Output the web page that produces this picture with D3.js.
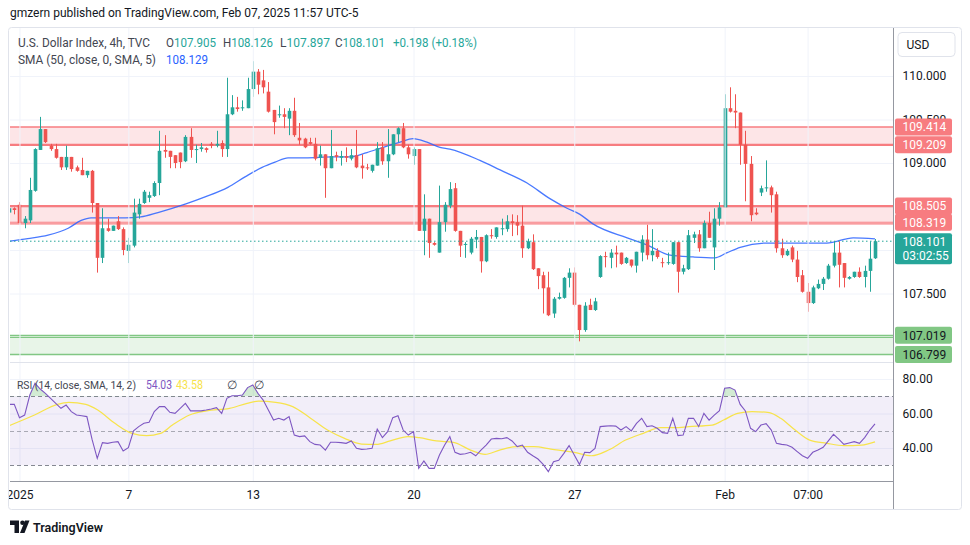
<!DOCTYPE html>
<html><head><meta charset="utf-8">
<script src="https://cdn.jsdelivr.net/npm/d3@7"></script>
<style>
html,body{margin:0;padding:0;background:#fff;}
svg{display:block;font-family:Roboto,"Noto Sans",sans-serif;}
</style></head><body>
<svg id="c" width="970" height="545"></svg>
<script>
// ---------------- DATA ----------------
const opens=[108.43,108.48,108.52,108.31,108.34,108.68,109.15,109.39,109.20,109.16,
109.07,108.95,109.07,108.95,108.92,108.86,108.91,108.54,107.91,108.25,
108.22,108.33,108.24,107.99,108.05,108.41,108.54,108.60,108.62,108.77,
109.15,109.14,109.09,109.12,109.02,109.30,109.15,109.16,109.17,109.22,
109.20,109.23,109.16,109.56,109.64,109.63,109.63,109.85,110.05,109.95,
109.82,109.61,109.55,109.56,109.51,109.60,109.29,109.28,109.24,109.22,
109.06,109.10,108.94,109.09,109.06,109.08,109.05,109.09,108.97,108.95,
108.91,108.97,109.18,109.02,109.10,109.33,109.40,109.18,109.08,109.16,
108.22,108.36,108.08,107.97,108.32,108.51,108.71,108.22,108.06,107.97,
108.12,108.15,107.87,108.17,108.15,108.24,108.24,108.33,108.32,108.28,
108.02,108.09,107.79,107.71,107.57,107.27,107.44,107.45,107.68,107.74,
107.37,107.08,107.37,107.31,107.69,107.93,107.91,107.97,107.97,107.85,
107.89,107.82,107.97,108.12,107.94,107.99,107.86,107.85,107.84,108.09,
107.75,107.78,108.14,108.18,108.02,108.31,108.03,108.36,108.49,109.63,
109.60,109.58,109.21,108.99,108.43,108.66,108.71,108.72,108.64,108.02,
107.94,108.03,107.89,107.71,107.52,107.39,107.56,107.61,107.67,107.82,
107.97,107.85,107.67,107.69,107.75,107.69,107.76,107.905];
const highs=[108.49,108.49,108.55,108.39,108.83,109.17,109.53,109.39,109.22,109.22,
109.07,109.20,109.07,108.97,109.06,108.91,108.92,108.54,108.48,108.36,
108.28,108.39,108.26,108.14,108.59,108.59,108.69,108.67,108.79,109.37,
109.32,109.14,109.09,109.12,109.32,109.40,109.21,109.23,109.18,109.24,
109.37,109.26,109.98,109.78,109.76,109.72,109.98,110.17,110.08,110.07,
109.93,109.61,109.66,109.63,109.63,109.75,109.46,109.29,109.29,109.29,
109.20,109.10,109.38,109.13,109.14,109.18,109.16,109.38,109.10,108.99,
108.98,109.24,109.24,109.39,109.33,109.41,109.46,109.21,109.18,109.16,
108.64,108.36,108.09,108.74,108.55,108.78,108.77,108.22,108.09,108.15,
108.23,108.15,108.18,108.24,108.26,108.36,108.40,108.41,108.40,108.51,
108.13,108.18,107.79,107.75,107.75,107.46,107.51,107.69,107.79,107.80,
107.37,107.40,107.44,107.45,107.94,107.98,108.01,108.05,107.97,107.92,
107.89,107.98,108.17,108.29,108.24,108.02,107.91,107.97,108.09,108.09,
107.83,108.23,108.21,108.23,108.34,108.44,108.48,108.55,109.79,109.87,
109.79,109.58,109.37,109.08,108.48,108.74,109.03,108.74,108.67,108.13,
108.01,108.05,107.99,107.77,107.62,107.59,107.66,107.69,107.84,108.10,
108.10,107.85,107.70,107.75,107.80,107.82,108.10,108.126];
const lows=[108.40,108.41,108.31,108.25,108.31,108.67,109.15,109.23,109.14,109.05,
108.92,108.92,108.90,108.90,108.86,108.83,108.43,107.74,107.85,108.21,
108.22,108.23,107.94,107.85,108.03,108.36,108.53,108.55,108.61,108.63,
109.06,108.94,108.94,108.94,109.01,109.06,109.00,109.13,109.12,109.17,
109.18,109.07,109.07,109.55,109.59,109.60,109.63,109.76,109.79,109.80,
109.58,109.33,109.52,109.40,109.32,109.30,109.21,109.17,109.21,109.03,
108.97,108.60,108.94,109.02,108.97,109.01,109.03,108.94,108.82,108.92,
108.89,108.97,108.98,108.83,109.09,109.24,109.17,109.05,108.98,108.22,
107.94,107.91,108.05,107.97,108.21,108.48,108.21,107.92,107.91,107.95,
108.02,107.74,107.86,108.13,108.13,108.17,108.21,108.16,108.17,107.91,
108.01,107.77,107.55,107.27,107.24,107.22,107.43,107.44,107.57,107.35,
106.95,107.06,107.31,107.30,107.68,107.80,107.79,107.80,107.83,107.84,
107.80,107.74,107.87,107.89,107.87,107.90,107.80,107.83,107.83,107.51,
107.72,107.77,108.08,107.98,108.02,108.14,107.77,108.28,108.49,109.58,
109.40,108.98,108.56,108.33,108.40,108.62,108.67,108.43,107.97,107.91,
107.93,107.86,107.63,107.51,107.29,107.38,107.55,107.54,107.66,107.80,
107.57,107.57,107.66,107.68,107.68,107.57,107.52,107.897];
const closes=[108.48,108.46,108.31,108.36,108.69,109.16,109.39,109.24,109.16,109.06,
108.95,109.07,108.93,108.91,108.86,108.91,108.54,107.91,108.25,108.22,
108.28,108.24,108.00,108.06,108.43,108.53,108.67,108.63,108.77,109.14,
109.13,109.07,109.00,109.01,109.30,109.15,109.16,109.18,109.15,109.20,
109.22,109.16,109.56,109.64,109.62,109.64,109.85,110.05,109.90,109.87,
109.59,109.47,109.56,109.53,109.60,109.32,109.26,109.18,109.22,109.05,
109.10,108.94,109.08,109.07,109.08,109.06,109.09,108.95,108.94,108.94,
108.98,109.17,109.02,109.10,109.33,109.40,109.18,109.10,109.16,108.22,
108.36,108.08,108.06,108.32,108.52,108.70,108.22,108.05,108.07,108.13,
108.15,107.87,108.17,108.16,108.26,108.25,108.33,108.31,108.28,108.02,
108.10,107.78,107.70,107.56,107.25,107.44,107.46,107.68,107.74,107.37,
107.08,107.36,107.31,107.41,107.93,107.92,107.97,107.95,107.84,107.91,
107.82,107.98,108.12,107.94,107.99,107.92,107.85,107.86,108.09,107.75,
107.79,108.17,108.18,108.02,108.31,108.14,108.36,108.49,109.63,109.59,
109.58,109.21,108.99,108.40,108.41,108.71,108.72,108.63,108.02,107.94,
107.99,107.89,107.69,107.52,107.39,107.57,107.61,107.67,107.82,107.97,
107.83,107.68,107.69,107.75,107.69,107.76,107.90,108.101];

// SMA(50): bar position -> value
const smaIdx=[0,3.6,7.5,11.4,13.9,15.8,19.1,22.4,25.4,28.7,34.1,37.8,42.2,45.5,48.8,51.3,53.8,57.1,62.5,65.7,69,72.1,75.4,77.9,80.6,83.1,85,90.8,94.7,99.9,104.3,107.6,110.1,112.6,119.2,123,127.5,131.9,136.1,138.5,141,146.2,151.2,157.7,162.8,167];
const smaVal=[108.10,108.13,108.17,108.25,108.34,108.37,108.37,108.37,108.38,108.43,108.53,108.61,108.72,108.84,108.95,109.01,109.06,109.06,109.07,109.07,109.12,109.18,109.24,109.28,109.24,109.18,109.16,109.03,108.92,108.77,108.59,108.48,108.41,108.30,108.14,108.06,107.94,107.92,107.91,107.97,108.03,108.08,108.08,108.08,108.14,108.129];

const rsi=[65.3,65.3,57.6,59.1,70.7,77.5,74.2,71.7,68.8,65.9,
63,64.9,61.1,59.1,58.7,58.2,45,34,43.1,42.7,
43.3,43.7,38.3,40.2,49.9,52.4,54.3,54.9,61.1,64,
64,60.7,60.1,63,65.9,61.5,61.5,61.5,62,62.6,
63.4,60.1,68.8,70.3,70.3,70.7,75,76.5,71.7,67.8,
62,56.2,57.2,56.2,58.2,47.5,46.6,47,43.7,42.1,
41.7,38.8,43.3,43.3,43.1,42.7,44.1,39.8,39.2,39.4,
39.8,51,46,49.5,57.6,58.7,50.4,47.5,49.5,28.2,
32.5,28.2,28.2,35.9,41.7,46.6,37.5,36.3,36.7,37.5,
35.5,38.8,41.7,45.2,45.6,45.4,46,44.1,40.8,41.7,
37.5,35.5,33.6,30.5,26.3,32.1,32.9,36.9,41.4,35.9,
30.5,37.5,37.3,39.8,52.4,52.7,52.9,52.7,50.4,52.4,
49.9,54.3,57.2,52.4,52.9,51.4,48.9,48.5,57.2,47.2,
47.5,57.2,57.2,52.4,60.1,56.2,59.1,61.6,74.6,75,
73.6,65.3,61.5,51.4,49.5,53.3,54.1,50.4,42.7,42.1,
41.7,40.4,37.9,35.5,34,37.5,38.8,40.4,44.1,47.9,
45.2,42.1,42.9,43.7,42.7,46,50.4,54.03];
const rsiMaIdx=[0,4.9,9.3,11.5,14.8,17.1,20.4,23.7,26.5,29.2,31.5,34.8,38.1,42.5,45.9,48.1,51.4,54.7,58,61.4,64.7,68,70.8,73.5,76.9,79.1,82.4,85.7,89,91.8,94.6,97.9,101.2,104.5,109,112.3,115.6,118.9,122.3,125.6,128.4,131.1,135.6,137.8,140.5,143.3,146.6,148.8,151.6,154.4,157.7,161,164.4,167];
const rsiMaVal=[52.9,59.1,65.3,66.5,65.3,62,54.3,48.5,47.2,48.5,53.3,59.1,61.5,63,65.9,67.2,66.5,64,57.6,50.4,45.6,42.3,42.1,44.1,46.6,46,44.1,43.3,38.8,36.3,38.8,40.8,40.8,39.4,37.5,35.5,38.8,44.6,48.5,51.8,51.8,52.4,53.3,56.2,60.1,61.1,60.5,57.2,50.4,44.6,42.7,41.4,41.7,43.58];

const resistanceZones=[[109.414,109.209],[108.505,108.319]];
const extraRedLine=[108.30];
const supportZone=[107.019,106.799];
const extraGreenLine=[106.995];
const lastPrice=108.101;
const countdown="03:02:55";
const priceTicks=[107,107.5,108,108.5,109,109.5,110];
const priceLabelTicks=[107.5,109,109.5,110];
const rsiTicks=[40,60,80];
const rsiLevels=[30,50,70];
const timeTickIdx=[2,23,47,78,109,138,154];
const timeTickLabels=["2025","7","13","20","27","Feb","07:00"];

// ---------------- LAYOUT ----------------
const svg=d3.select("#c");
const L=10,R=893.5,mainT=28,mainB=362,rsiT=363,rsiB=481;
const UP="#26a69a",DN="#ef5350";
const x=d3.scaleLinear().domain([0,167]).range([9.1,875]);
const y=d3.scaleLinear().domain([107.5,110]).range([293.5,76]);
const yr=d3.scaleLinear().domain([40,80]).range([448,379]);
const defs=svg.append("defs");
defs.append("clipPath").attr("id","cm").append("rect").attr("x",L).attr("y",mainT).attr("width",R-L).attr("height",mainB-mainT);
defs.append("clipPath").attr("id","cr").append("rect").attr("x",L).attr("y",rsiT).attr("width",R-L).attr("height",rsiB-rsiT);
defs.append("clipPath").attr("id","cob").append("rect").attr("x",L).attr("y",rsiT).attr("width",R-L).attr("height",yr(70)-rsiT);
defs.append("clipPath").attr("id","ct").append("rect").attr("x",9).attr("y",482).attr("width",R-9).attr("height",26);

// frame
svg.append("rect").attr("x",8.5).attr("y",27.5).attr("width",953).attr("height",482).attr("fill","none").attr("stroke","#e0e3eb").attr("rx",3);

// grids
const gm=svg.append("g").attr("clip-path","url(#cm)");
const gridColor="#f0f3fa";
gm.append("g").attr("transform",`translate(${L},0)`).call(d3.axisLeft(y).tickValues(priceTicks).tickSize(-(R-L)).tickFormat(""))
 .call(g=>{g.select(".domain").remove();g.selectAll("line").attr("stroke",gridColor);});
svg.append("g").attr("transform",`translate(0,${mainT})`).call(d3.axisBottom(x).tickValues(timeTickIdx).tickSize(rsiB-mainT).tickFormat(""))
 .call(g=>{g.select(".domain").remove();g.selectAll("line").attr("stroke",gridColor);});
const grr=svg.append("g").attr("clip-path","url(#cr)");

// zones
resistanceZones.forEach(z=>{
  gm.append("rect").attr("x",L).attr("width",R-L).attr("y",y(z[0])).attr("height",y(z[1])-y(z[0])).attr("fill","rgba(242,54,69,0.13)");
  gm.append("line").attr("x1",L).attr("x2",R).attr("y1",y(z[0])).attr("y2",y(z[0])).attr("stroke","#f77c80").attr("stroke-width",z[0]>109?1.5:2.2);
  gm.append("line").attr("x1",L).attr("x2",R).attr("y1",y(z[1])).attr("y2",y(z[1])).attr("stroke","#f77c80").attr("stroke-width",z[0]>109?2.2:1.2);
});
extraRedLine.forEach(v=>gm.append("line").attr("x1",L).attr("x2",R).attr("y1",y(v)).attr("y2",y(v)).attr("stroke","#f77c80").attr("stroke-width",1.2));
gm.append("rect").attr("x",L).attr("width",R-L).attr("y",y(supportZone[0])).attr("height",y(supportZone[1])-y(supportZone[0])).attr("fill","rgba(76,175,80,0.13)");
[supportZone[0],extraGreenLine[0],supportZone[1]].forEach(v=>gm.append("line").attr("x1",L).attr("x2",R).attr("y1",y(v)).attr("y2",y(v)).attr("stroke","#81c784").attr("stroke-width",1.3));

// SMA line
gm.append("path").datum(smaIdx.map((d,i)=>[d,smaVal[i]]))
 .attr("d",d3.line().x(d=>x(d[0])).y(d=>y(d[1])).curve(d3.curveMonotoneX))
 .attr("fill","none").attr("stroke","#2962ff").attr("stroke-width",1.3).attr("stroke-opacity",0.85);

// candles
const idx=d3.range(closes.length);
const col=i=>closes[i]>=opens[i]?UP:DN;
gm.append("g").selectAll("line").data(idx).join("line")
 .attr("x1",i=>Math.round(x(i))+0.5).attr("x2",i=>Math.round(x(i))+0.5)
 .attr("y1",i=>y(highs[i])).attr("y2",i=>y(lows[i])).attr("stroke",col).attr("stroke-width",1);
gm.append("g").selectAll("rect").data(idx).join("rect")
 .attr("x",i=>Math.round(x(i))-1.3).attr("width",3.6)
 .attr("y",i=>y(Math.max(opens[i],closes[i])))
 .attr("height",i=>Math.max(1,Math.abs(y(opens[i])-y(closes[i]))))
 .attr("fill",col);

// last price dotted line
gm.append("line").attr("x1",L).attr("x2",R).attr("y1",y(lastPrice)).attr("y2",y(lastPrice))
 .attr("stroke",UP).attr("stroke-width",1).attr("stroke-dasharray","1.5,2.5");

// RSI pane
grr.append("g").attr("transform",`translate(${L},0)`).call(d3.axisLeft(yr).tickValues(rsiTicks).tickSize(-(R-L)).tickFormat(""))
 .call(g=>{g.select(".domain").remove();g.selectAll("line").attr("stroke",gridColor);});
grr.append("rect").attr("x",L).attr("width",R-L).attr("y",yr(70)).attr("height",yr(30)-yr(70)).attr("fill","rgba(126,87,194,0.1)");
rsiLevels.forEach(v=>grr.append("line").attr("x1",L).attr("x2",R).attr("y1",Math.round(yr(v))+0.5).attr("y2",Math.round(yr(v))+0.5)
 .attr("stroke","#787b86").attr("stroke-opacity",v===50?0.6:0.9).attr("stroke-dasharray","4,3"));
const rsiPts=idx.map(i=>[i,rsi[i]]);
grr.append("path").datum(rsiPts).attr("clip-path","url(#cob)")
 .attr("d",d3.area().x(d=>x(d[0])).y0(yr(70)).y1(d=>yr(d[1]))).attr("fill","rgba(76,175,80,0.25)");
grr.append("path").datum(rsiMaIdx.map((d,i)=>[d,rsiMaVal[i]]))
 .attr("d",d3.line().x(d=>x(d[0])).y(d=>yr(d[1])).curve(d3.curveMonotoneX))
 .attr("fill","none").attr("stroke","#f7e34b").attr("stroke-width",1.2);
grr.append("path").datum(rsiPts)
 .attr("d",d3.line().x(d=>x(d[0])).y(d=>yr(d[1])))
 .attr("fill","none").attr("stroke","#7e57c2").attr("stroke-width",1.1);

// separators
svg.append("line").attr("x1",L).attr("x2",R).attr("y1",362.5).attr("y2",362.5).attr("stroke","#e0e3eb");
svg.append("line").attr("x1",R).attr("x2",R).attr("y1",28).attr("y2",509).attr("stroke","#9598a1").attr("stroke-width",1);
svg.append("line").attr("x1",L).attr("x2",R).attr("y1",481.5).attr("y2",481.5).attr("stroke","#9598a1").attr("stroke-width",1);

// price axis labels
const txt="#131722";
svg.append("g").attr("transform",`translate(${R+9},0)`)
 .call(d3.axisRight(y).tickValues(priceLabelTicks).tickSize(0).tickPadding(0).tickFormat(d3.format(".3f")))
 .call(g=>{g.select(".domain").remove();g.selectAll("text").attr("fill",txt).attr("font-size",12).attr("font-family","Roboto,sans-serif");});
svg.append("g").attr("transform",`translate(${R+9},0)`)
 .call(d3.axisRight(yr).tickValues(rsiTicks).tickSize(0).tickPadding(0).tickFormat(d3.format(".2f")))
 .call(g=>{g.select(".domain").remove();g.selectAll("text").attr("fill",txt).attr("font-size",12).attr("font-family","Roboto,sans-serif");});

function priceBox(v,fill,tcol){
  const yy=y(v);
  svg.append("rect").attr("x",R+1.5).attr("y",yy-8.5).attr("width",57).attr("height",17).attr("rx",2).attr("fill",fill);
  svg.append("text").attr("x",R+9).attr("y",yy+4.3).attr("fill",tcol).attr("font-size",12).text(d3.format(".3f")(v));
}
[resistanceZones[0][0],resistanceZones[0][1],resistanceZones[1][0],resistanceZones[1][1]].forEach(v=>priceBox(v,"#f77c80","#fff"));
supportZone.forEach(v=>priceBox(v,"#81c784","#131722"));
// last price box
const ly=y(lastPrice);
svg.append("rect").attr("x",R+1.5).attr("y",ly-8).attr("width",57).attr("height",31).attr("rx",2).attr("fill",UP);
svg.append("text").attr("x",R+9).attr("y",ly+4.3).attr("fill","#fff").attr("font-size",12).text(d3.format(".3f")(lastPrice));
svg.append("text").attr("x",R+9).attr("y",ly+19).attr("fill","#fff").attr("font-size",12).text(countdown);
// USD button
svg.append("rect").attr("x",R+4.5).attr("y",32.5).attr("width",57).attr("height",24).attr("rx",4).attr("fill","#fff").attr("stroke","#e0e3eb");
svg.append("text").attr("x",R+13).attr("y",49).attr("fill",txt).attr("font-size",12).text("USD");

// time axis
svg.append("g").attr("clip-path","url(#ct)").append("g").attr("transform","translate(0,482)")
 .call(d3.axisBottom(x).tickValues(timeTickIdx).tickSize(0).tickPadding(8).tickFormat((d,i)=>timeTickLabels[i]))
 .call(g=>{g.select(".domain").remove();g.selectAll("text").attr("fill",txt).attr("font-size",12).attr("font-family","Roboto,sans-serif");});

// headers
svg.append("text").attr("x",10).attr("y",17).attr("fill",txt).attr("font-size",12).text("gmzern published on TradingView.com, Feb 07, 2025 11:57 UTC-5");
const hg="#434651",tv=UP;
svg.append("text").attr("x",18).attr("y",46.5).attr("fill",hg).attr("font-size",12).attr("textLength",132).attr("lengthAdjust","spacingAndGlyphs").text("U.S. Dollar Index, 4h, TVC");
[["O","107.905",166],["H","108.126",223],["L","107.897",280],["C","108.101",335]].forEach(p=>{
  const t=svg.append("text").attr("x",p[2]).attr("y",46.5).attr("font-size",12).attr("textLength",50).attr("lengthAdjust","spacingAndGlyphs");
  t.append("tspan").attr("fill",hg).text(p[0]);t.append("tspan").attr("fill",tv).text(p[1]);
});
svg.append("text").attr("x",393).attr("y",46.5).attr("fill",tv).attr("font-size",12).attr("textLength",84).attr("lengthAdjust","spacingAndGlyphs").text("+0.198 (+0.18%)");
svg.append("text").attr("x",18).attr("y",63.5).attr("fill",hg).attr("font-size",12).attr("textLength",138).attr("lengthAdjust","spacingAndGlyphs").text("SMA (50, close, 0, SMA, 5)");
svg.append("text").attr("x",166).attr("y",63.5).attr("fill","#2962ff").attr("font-size",12).attr("textLength",42).attr("lengthAdjust","spacingAndGlyphs").text("108.129");
svg.append("text").attr("x",17).attr("y",389).attr("fill",hg).attr("font-size",11).attr("textLength",119).attr("lengthAdjust","spacingAndGlyphs").text("RSI (14, close, SMA, 14, 2)");
svg.append("text").attr("x",146).attr("y",389).attr("fill","#7e57c2").attr("font-size",12).attr("textLength",26).attr("lengthAdjust","spacingAndGlyphs").text("54.03");
svg.append("text").attr("x",176).attr("y",389).attr("fill","#f7e34b").attr("font-size",12).attr("textLength",27).attr("lengthAdjust","spacingAndGlyphs").text("43.58");
svg.append("text").attr("x",227).attr("y",389).attr("fill",hg).attr("font-size",12).text("∅");
svg.append("text").attr("x",254).attr("y",389).attr("fill",hg).attr("font-size",12).text("∅");

// footer logo
const lg=svg.append("g").attr("fill","#131722");
lg.append("path").attr("d","M10,520.5h9v12.5h-4.5v-8h-4.5z");
lg.append("circle").attr("cx",22.5).attr("cy",522.8).attr("r",2.3);
lg.append("path").attr("d","M20,533l5-12.5h4.5l-5,12.5z");
svg.append("text").attr("x",33).attr("y",532).attr("fill","#131722").attr("font-size",13).attr("font-weight",600).attr("textLength",70).attr("lengthAdjust","spacingAndGlyphs").text("TradingView");
</script>
</body></html>
